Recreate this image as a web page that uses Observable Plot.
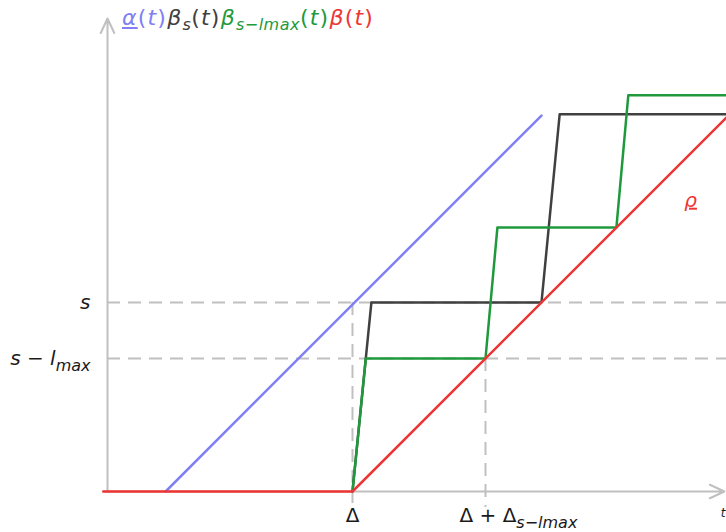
<!DOCTYPE html>
<html>
<head>
<meta charset="utf-8">
<script src="https://cdn.jsdelivr.net/npm/d3@7"></script>
<script src="https://cdn.jsdelivr.net/npm/@observablehq/plot@0.6"></script>
<style>
  html, body { margin: 0; padding: 0; background: white; }
  #wrap { position: relative; width: 726px; height: 532px; overflow: hidden; }
  #title { position: absolute; left: 122px; top: 5px; font-family: "DejaVu Sans", sans-serif; font-size: 22px; letter-spacing: 1.2px; white-space: nowrap; }
  #title i { font-style: italic; }
  #title sub { font-size: 16px; vertical-align: -5px; line-height: 0; letter-spacing: 0.5px; }
</style>
</head>
<body>
<div id="wrap">
  <div id="title"></div>
</div>
<script>
// ---- data (units: time on x, amount on y) ----
const DELTA = 35;            // Δ
const S = 27;                // s
const S_LMAX = 19;           // s − l_max
const DELTA2 = 54;           // Δ + Δ_{s−lmax}
const xMax = 88.43, yMax = 67.57;

// β(t) : service curve (red)
const betaT = [-0.6, 35, 89];
const betaY = [0, 0, 54];
// α(t) : arrival curve (blue)
const alphaT = [8.3, 62];
const alphaY = [0, 53.7];
// β_s(t) (black)
const betaST = [35, 37.7, 62, 64.6, 89];
const betaSY = [0, 27, 27, 53.9, 53.9];
// β_{s−lmax}(t) (green)
const betaSLT = [35, 36.9, 54, 55.7, 72.7, 74.4, 89];
const betaSLY = [0, 19, 19, 37.7, 37.7, 56.6, 56.6];

// tick labels
const yTicks = [S, S_LMAX];
const yTickLabels = ["s", "s − l_{max}"];
const xTicks = [DELTA, DELTA2];
const xTickLabels = ["Δ", "Δ + Δ_{s−l_{max}}"];
const xTickFrom = [S, S_LMAX];   // dashed vertical guides start at these levels
const xTickTo = [-1.7, -2.3];     // and run a little below the axis

// annotation
const rhoLabel = [{x: 83.3, y: 41.6, text: "ρ"}];

const colors = {blue: "#8080f4", black: "#404040", green: "#1e9a3c", red: "#ee3535", gray: "#c0c0c0"};

const pts = (T, Y) => T.map((t, i) => ({t, v: Y[i]}));

const plot = Plot.plot({
  width: 726, height: 532,
  marginLeft: 107, marginRight: 0, marginTop: 18, marginBottom: 41,
  x: {domain: [0, xMax], axis: null},
  y: {domain: [0, yMax], axis: null},
  style: {fontFamily: "DejaVu Sans, sans-serif", fontSize: "20px", background: "white"},
  marks: [
    // dashed guides
    Plot.ruleY(yTicks, {x1: 0, x2: xMax, stroke: colors.gray, strokeWidth: 2, strokeDasharray: "13,8"}),
    Plot.ruleX(xTicks.map((x, i) => ({x, top: xTickFrom[i], bottom: xTickTo[i]})), {x: "x", y1: "top", y2: "bottom", stroke: colors.gray, strokeWidth: 2, strokeDasharray: "13,8"}),
    // axes with arrow heads
    Plot.arrow([{x1: -0.6, y1: 0, x2: xMax - 0.3, y2: 0}], {x1: "x1", y1: "y1", x2: "x2", y2: "y2", stroke: colors.gray, strokeWidth: 2, headLength: 12, headAngle: 50}),
    Plot.arrow([{x1: 0, y1: 0, x2: 0, y2: yMax}], {x1: "x1", y1: "y1", x2: "x2", y2: "y2", stroke: colors.gray, strokeWidth: 2, headLength: 12, headAngle: 50}),
    // curves
    Plot.line(pts(alphaT, alphaY), {x: "t", y: "v", stroke: colors.blue, strokeWidth: 2.5}),
    Plot.line(pts(betaST, betaSY), {x: "t", y: "v", stroke: colors.black, strokeWidth: 2.5}),
    Plot.line(pts(betaSLT, betaSLY), {x: "t", y: "v", stroke: colors.green, strokeWidth: 2.5}),
    Plot.line(pts(betaT, betaY), {x: "t", y: "v", stroke: colors.red, strokeWidth: 2.5}),
    // tick labels
    Plot.text(yTickLabels, {x: () => 0, y: (d, i) => yTicks[i], text: d => d, dx: -17, textAnchor: "end", fill: "#1a1a1a"}),
    Plot.text(xTickLabels.slice(0, 1), {x: () => xTicks[0], y: () => 0, text: d => d, dy: 24, textAnchor: "middle", fill: "#1a1a1a"}),
    Plot.text(xTickLabels.slice(1), {x: () => xTicks[1], y: () => 0, text: d => d, dy: 24, dx: -26, textAnchor: "start", fill: "#1a1a1a"}),
    // x-axis label at the arrow tip
    Plot.text(["t"], {x: () => xMax, y: () => 0, text: d => d, dx: -1, dy: 22, textAnchor: "end", fill: "#1a1a1a", fontSize: 12}),
    // ρ annotation
    Plot.text(rhoLabel, {x: "x", y: "y", text: "text", fill: colors.red})
  ]
});

document.getElementById("wrap").appendChild(plot);

// ---- rich text: italics for letters, subscripts for _{...} ----
function parse(str) {
  const out = []; let i = 0;
  while (i < str.length) {
    if (str.startsWith("_{", i)) {
      let depth = 0, j = i + 1;
      for (; j < str.length; j++) {
        if (str[j] === "{") depth++;
        else if (str[j] === "}") { depth--; if (depth === 0) break; }
      }
      const inner = str.slice(i + 2, j).replace(/_\{|\}/g, "");
      out.push({t: inner, sub: true}); i = j + 1;
    } else {
      let j = i; while (j < str.length && !str.startsWith("_{", j)) j++;
      out.push({t: str.slice(i, j), sub: false}); i = j;
    }
  }
  return out;
}
const isItal = c => /[a-zα-ωρ]/.test(c);
function richify(textEl) {
  const s = textEl.textContent;
  const segs = parse(s);
  textEl.textContent = "";
  let shifted = false;
  for (const seg of segs) {
    let runs = [];
    for (const c of seg.t) {
      const it = isItal(c);
      if (runs.length && runs[runs.length - 1].it === it) runs[runs.length - 1].t += c;
      else runs.push({t: c, it});
    }
    runs.forEach((r, k) => {
      const ts = document.createElementNS("http://www.w3.org/2000/svg", "tspan");
      ts.textContent = r.t;
      if (r.it) ts.setAttribute("font-style", "italic");
      if (seg.sub) ts.setAttribute("font-size", "16px");
      if (k === 0) {
        if (seg.sub && !shifted) { ts.setAttribute("dy", "6"); shifted = true; }
        else if (!seg.sub && shifted) { ts.setAttribute("dy", "-6"); shifted = false; }
      }
      textEl.appendChild(ts);
    });
  }
}
d3.select(plot).selectAll("text").each(function () {
  if (this.textContent === "ρ") { this.style.textDecoration = "underline"; this.setAttribute("font-style", "italic"); return; }
  richify(this);
});

// ---- title ----
const titleParts = [
  {html: '<span style="text-decoration:underline"><i>α</i></span>(<i>t</i>)', color: colors.blue},
  {html: '<i>β</i><sub><i>s</i></sub>(<i>t</i>)', color: colors.black},
  {html: '<i>β</i><sub><i>s</i>−<i>lmax</i></sub>(<i>t</i>)', color: colors.green},
  {html: '<i>β</i>(<i>t</i>)', color: colors.red}
];
document.getElementById("title").innerHTML = titleParts.map(p => `<span style="color:${p.color}">${p.html}</span>`).join("");
</script>
</body>
</html>
